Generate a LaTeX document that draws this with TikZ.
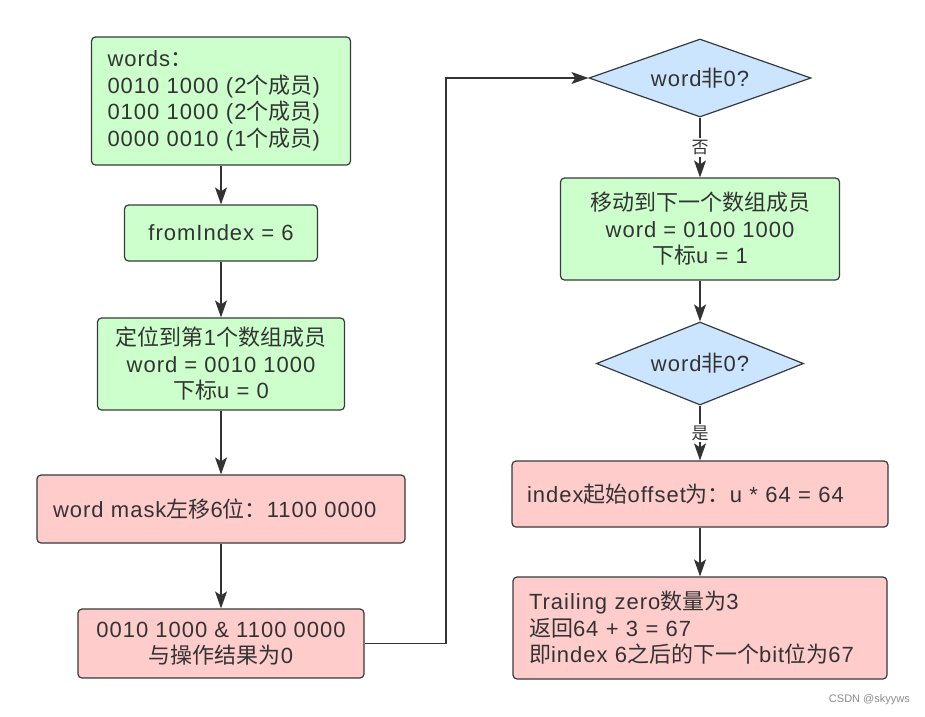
\documentclass[tikz,border=0pt]{standalone}
\usepackage{fontspec}
\setmainfont{Liberation Sans}[LetterSpace=4.5]
\newfontfamily\cjk{Noto Sans CJK SC}
\newfontfamily\wmfont{Liberation Sans}
\newcommand\zh[1]{{\cjk #1}}
\newcommand\mainsz{\fontsize{22}{26.5}\selectfont}
\newcommand\lblsz{\fontsize{17}{20}\selectfont}
\usetikzlibrary{shapes.geometric,arrows.meta}
\definecolor{gfill}{HTML}{CCFFCC}
\definecolor{pfill}{HTML}{FFCCCC}
\definecolor{bfill}{HTML}{CCE5FF}
\definecolor{edgec}{HTML}{36393D}
\definecolor{txt}{HTML}{333333}
\tikzset{
  box/.style={draw=edgec, line width=1.2pt, rounded corners=4pt, text=txt, font=\mainsz, inner sep=0pt, align=center},
  greenbox/.style={box, fill=gfill},
  pinkbox/.style={box, fill=pfill},
  dia/.style={diamond, draw=edgec, fill=bfill, line width=1.2pt, inner sep=0pt, text=txt, font=\mainsz},
  arr/.style={draw=txt, line width=1.2pt, -{Stealth[length=17pt,width=12pt,inset=4pt]}},
  lbl/.style={fill=white, text=txt, font=\lblsz\cjk, inner sep=2pt}
}
\begin{document}
\begin{tikzpicture}[x=1pt,y=-1pt]
\fill[white] (0,0) rectangle (925,716);
\useasboundingbox (0,0) rectangle (925,716);

\node[greenbox, minimum height=128pt, text width=227pt, inner xsep=16pt, align=left] (b1) at (221,101)
  {words\zh{：}\\0010 1000 (2\zh{个成员})\\0100 1000 (2\zh{个成员})\\0000 0010 (1\zh{个成员})};
\node[greenbox, minimum width=193pt, minimum height=56pt] (b2) at (221,233) {fromIndex = 6};
\node[greenbox, minimum width=247pt, minimum height=92pt] (b3) at (221,364)
  {\zh{定位到第}1\zh{个数组成员}\\word = 0010 1000\\\zh{下标}u = 0};
\node[pinkbox, minimum height=68pt, text width=336pt, inner xsep=16pt, align=left] (b4) at (221,509)
  {word mask\zh{左移}6\zh{位：}1100 0000};
\node[pinkbox, minimum width=286pt, minimum height=69pt] (b5) at (221,643.5)
  {0010 1000 \& 1100 0000\\\zh{与操作结果为}0};

\node[dia, shape aspect=2.85, minimum width=222pt, minimum height=78pt] (d1) at (700,78) {word\zh{非}0?};
\node[greenbox, minimum width=279pt, minimum height=102pt] (b6) at (700,229)
  {\zh{移动到下一个数组成员}\\word = 0100 1000\\\zh{下标}u = 1};
\node[dia, shape aspect=2.5, minimum width=207pt, minimum height=83pt] (d2) at (700,363.5) {word\zh{非}0?};
\node[pinkbox, minimum height=66pt, text width=346pt, inner xsep=15pt, align=left] (b7) at (700,494)
  {index\zh{起始}offset\zh{为：}u * 64 = 64};
\node[pinkbox, minimum height=102pt, text width=342pt, inner xsep=16pt, align=left] (b8) at (700,628)
  {Trailing zero\zh{数量为}3\\\zh{返回}64 + 3 = 67\\\zh{即}index 6\zh{之后的下一个}bit\zh{位为}67};

\draw[arr] (b1) -- (b2);
\draw[arr] (b2) -- (b3);
\draw[arr] (b3) -- (b4);
\draw[arr] (b4) -- (b5);
\coordinate (c1) at (446,643.5);
\draw[arr] (b5.east) -- (c1) |- (d1.west);
\draw[arr] (d1) -- node[lbl] {否} (b6);
\draw[arr] (b6) -- (d2);
\draw[arr] (d2) -- node[lbl] {是} (b7);
\draw[arr] (b7) -- (b8);

\node[text=black!45, font=\wmfont\fontsize{11}{13}\selectfont, anchor=east, inner sep=0pt] (wm) at (910,700) {CSDN @skyyws};
\end{tikzpicture}
\end{document}
